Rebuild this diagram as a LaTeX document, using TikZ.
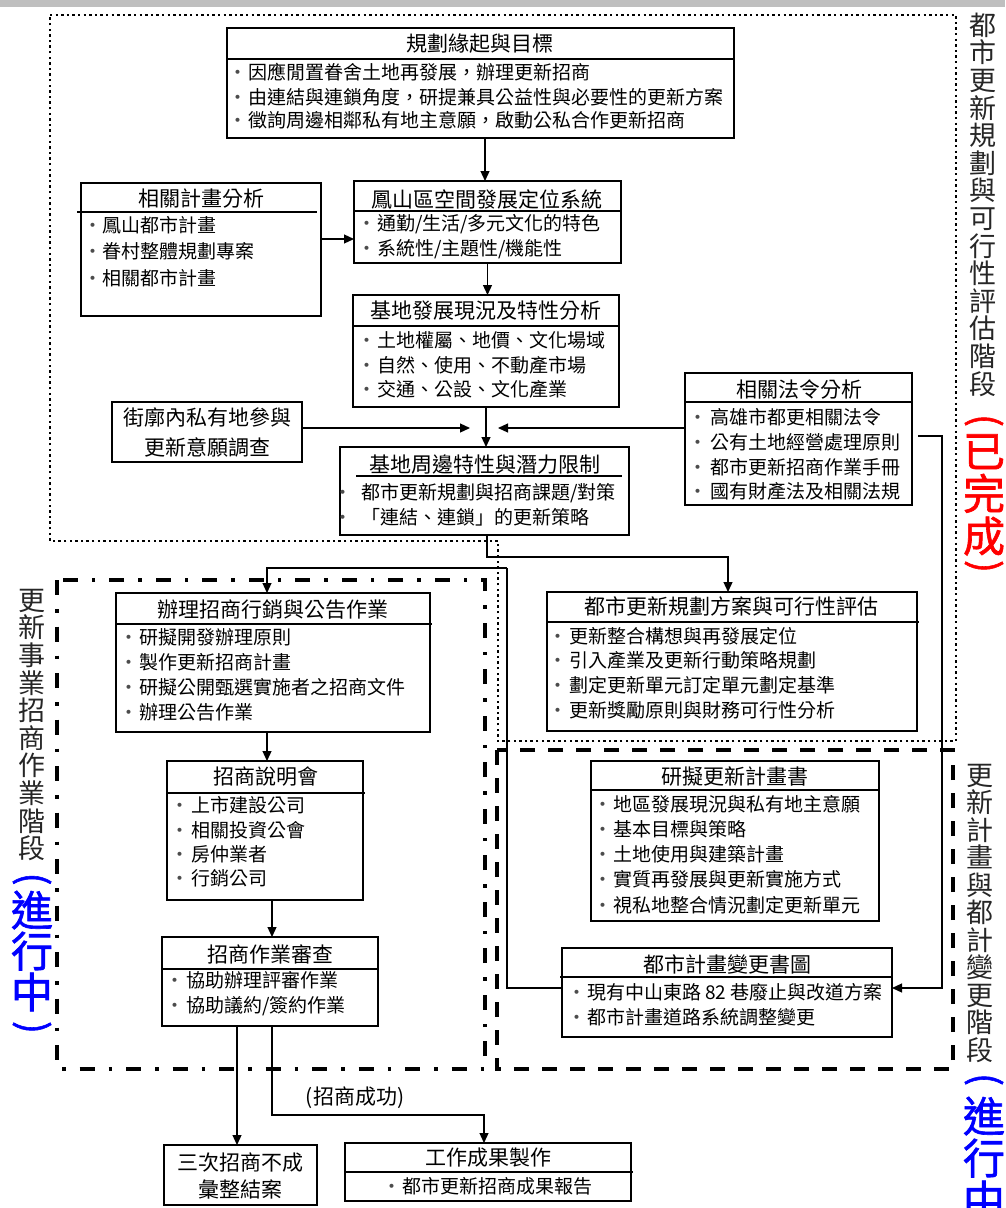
\documentclass[tikz,border=0pt]{standalone}
\usepackage{fontspec}
\setmainfont{Noto Sans CJK TC}
\newfontfamily\heavyf[FakeBold=1.5]{Noto Sans CJK TC}
\usetikzlibrary{arrows.meta}
\newcommand{\bul}[1]{\llap{\makebox[0pt][c]{\textcolor{black!70}{‧}}\hspace{#1pt}}}
\newcommand{\panel}[5]{\node[panel, minimum width={(#4-#2)*1pt}, minimum height={(#5-#3)*1pt}] (#1) at ({(#2+#4)/2},{(#3+#5)/2}) {};}
\tikzset{
  every node/.style={inner sep=0pt, outer sep=0pt},
  panel/.style={draw, line width=1.1pt},
  sepl/.style={line width=1.1pt},
  ttl/.style={font=\fontsize{21}{25}\selectfont, text height=16.8pt, text depth=0.84pt},
  itm/.style={font=\fontsize{19}{22}\selectfont, anchor=west, text height=15.2pt, text depth=0.76pt},
  conn/.style={line width=1.2pt},
  arr/.style={conn, -{Triangle[length=10pt,width=9pt]}},
  vch/.style={font=\fontsize{27}{27}\selectfont, text height=21.6pt, text depth=1.08pt, text=black!85},
  vbig/.style={font=\heavyf\fontsize{42}{42}\selectfont, text height=33.6pt, text depth=1.68pt},
  vpar/.style={font=\heavyf\fontsize{38}{38}\selectfont, rotate=-90},
}
\begin{document}
\begin{tikzpicture}[x=1pt,y=-1pt]
\useasboundingbox (0,0) rectangle (1005,1208);
\fill[gray!50] (0,0) rectangle (1005,7);

% stage outlines
\draw[line width=2.4pt, dash pattern=on 2.4pt off 3.2pt] (50,15) -- (956,15) -- (956,741) -- (498,741) -- (498,541) -- (50,541) -- cycle;
\draw[line width=3.5pt, dash pattern=on 15pt off 14pt on 3.5pt off 14pt] (57,580) rectangle (485,1069);
\draw[line width=3.5pt, dash pattern=on 15pt off 13pt] (497,750) rectangle (953,1069);

% vertical stage labels
\foreach \c [count=\i from 0] in {都,市,更,新,規,劃,與,可,行,性,評,估,階,段}
  \node[vch] (va\i) at (983,{25+\i*27.6}) {\c};
\node[vpar, text=red] (vr0) at (984,420.5) {(};
\foreach \c [count=\i from 1] in {已,完,成}
  \node[vbig, text=red] (vr\i) at (984,{408.5+\i*42.5}) {\c};
\node[vpar, text=red] (vr4) at (984,566.5) {)};
\foreach \c [count=\i from 0] in {更,新,事,業,招,商,作,業,階,段}
  \node[vch] (vb\i) at (32,{600+\i*27.6}) {\c};
\node[vpar, text=blue] (vl0) at (32,879) {(};
\foreach \c [count=\i from 1] in {進,行,中}
  \node[vbig, text=blue] (vl\i) at (32,{869+\i*41}) {\c};
\node[vpar, text=blue] (vl4) at (32,1027.5) {)};
\foreach \c [count=\i from 0] in {更,新,計,畫,與,都,計,變,更,階,段}
  \node[vch] (vc\i) at (980,{775+\i*27.5}) {\c};
\node[vpar, text=blue] (vd0) at (984,1079.5) {(};
\foreach \c [count=\i from 1] in {進,行,中}
  \node[vbig, text=blue] (vd\i) at (984,{1074+\i*42}) {\c};

% b1
\panel{b1}{227}{28}{734}{138}
\draw[sepl] (227,59) -- (734,59);
\node[ttl] (b1t) at (480,44) {規劃緣起與目標};
\node[itm] (b1a) at (248,72.5) {\bul{10}因應閒置眷舍土地再發展，辦理更新招商};
\node[itm] (b1b) at (248,97.5) {\bul{10}由連結與連鎖角度，研提兼具公益性與必要性的更新方案};
\node[itm] (b1c) at (248,120.5) {\bul{10}徵詢周邊相鄰私有地主意願，啟動公私合作更新招商};

% b2
\panel{b2}{81}{183}{321}{316}
\draw[sepl] (77,212) -- (317,212);
\node[ttl] (b2t) at (201,199) {相關計畫分析};
\node[itm] (b2a) at (102,225) {\bul{9}鳳山都市計畫};
\node[itm] (b2b) at (102,251) {\bul{9}眷村整體規劃專案};
\node[itm] (b2c) at (102,278) {\bul{9}相關都市計畫};

% b3
\panel{b3}{354}{181}{621}{263}
\draw[sepl] (354,211) -- (621,211);
\node[ttl] (b3t) at (487,199.5) {鳳山區空間發展定位系統};
\node[itm] (b3a) at (377,223) {\bul{10}通勤/生活/多元文化的特色};
\node[itm] (b3b) at (377,248) {\bul{10}系統性/主題性/機能性};

% b4
\panel{b4}{353}{295}{619}{407}
\draw[sepl] (353,326) -- (619,326);
\node[ttl] (b4t) at (486,311) {基地發展現況及特性分析};
\node[itm] (b4a) at (377,340) {\bul{10}土地權屬、地價、文化場域};
\node[itm] (b4b) at (377,365) {\bul{10}自然、使用、不動產市場};
\node[itm] (b4c) at (377,389) {\bul{10}交通、公設、文化產業};

% b5
\panel{b5}{112}{402}{302}{462}
\node[ttl] (b5a) at (207,418) {街廓內私有地參與};
\node[ttl] (b5b) at (207,448) {更新意願調查};

% b6
\panel{b6}{340}{447}{629}{535}
\draw[sepl] (356,476) -- (622,476);
\node[ttl] (b6t) at (484.5,465) {基地周邊特性與潛力限制};
\node[itm] (b6a) at (361,492) {\bul{18}都市更新規劃與招商課題/對策};
\node[itm] (b6b) at (361,517) {\bul{18}「連結、連鎖」的更新策略};

% b7
\panel{b7}{685}{373}{912}{505}
\draw[sepl] (685,402) -- (912,402);
\node[ttl] (b7t) at (799,390) {相關法令分析};
\node[itm] (b7a) at (710,417) {\bul{12}高雄市都更相關法令};
\node[itm] (b7b) at (710,442) {\bul{12}公有土地經營處理原則};
\node[itm] (b7c) at (710,467) {\bul{12}都市更新招商作業手冊};
\node[itm] (b7d) at (710,491) {\bul{12}國有財產法及相關法規};

% b8
\panel{b8}{116}{593}{430}{732}
\draw[sepl] (116,624) -- (432,624);
\node[ttl] (b8t) at (273,610) {辦理招商行銷與公告作業};
\node[itm] (b8a) at (139.3,637.5) {\bul{10}研擬開發辦理原則};
\node[itm] (b8b) at (139.3,662.5) {\bul{10}製作更新招商計畫};
\node[itm] (b8c) at (139.3,687.5) {\bul{10}研擬公開甄選實施者之招商文件};
\node[itm] (b8d) at (139.3,712.5) {\bul{10}辦理公告作業};

% b9
\panel{b9}{167}{761}{363}{900}
\draw[sepl] (167,793) -- (365,793);
\node[ttl] (b9t) at (265.5,777) {招商說明會};
\node[itm] (b9a) at (191,805) {\bul{11}上市建設公司};
\node[itm] (b9b) at (191,830) {\bul{11}相關投資公會};
\node[itm] (b9c) at (191,854) {\bul{11}房仲業者};
\node[itm] (b9d) at (191,878) {\bul{11}行銷公司};

% b10
\panel{b10}{162}{937}{378}{1026}
\draw[sepl] (162,969) -- (379,969);
\node[ttl] (b10t) at (270,955) {招商作業審查};
\node[itm] (b10a) at (186,980) {\bul{11}協助辦理評審作業};
\node[itm] (b10b) at (186,1005) {\bul{11}協助議約/簽約作業};

% b11
\panel{b11}{164}{1145}{317}{1205}
\node[ttl] (b11a) at (240.5,1163) {三次招商不成};
\node[ttl] (b11b) at (240.5,1190) {彙整結案};

% b12
\panel{b12}{345}{1143}{631}{1201}
\draw[sepl] (345,1172) -- (633,1172);
\node[ttl] (b12t) at (488,1158) {工作成果製作};
\node[itm] (b12a) at (402,1186) {\bul{10}都市更新招商成果報告};

% b13
\panel{b13}{547}{592}{917}{731}
\draw[sepl] (547,622) -- (919,622);
\node[ttl] (b13t) at (731,607) {都市更新規劃方案與可行性評估};
\node[itm] (b13a) at (569,636) {\bul{11}更新整合構想與再發展定位};
\node[itm] (b13b) at (569,660) {\bul{11}引入產業及更新行動策略規劃};
\node[itm] (b13c) at (569,685) {\bul{11}劃定更新單元訂定單元劃定基準};
\node[itm] (b13d) at (569,710) {\bul{11}更新獎勵原則與財務可行性分析};

% b14
\panel{b14}{591}{761}{879}{921}
\draw[sepl] (591,790) -- (879,790);
\node[ttl] (b14t) at (735,777) {研擬更新計畫書};
\node[itm] (b14a) at (613,804) {\bul{10}地區發展現況與私有地主意願};
\node[itm] (b14b) at (613,829) {\bul{10}基本目標與策略};
\node[itm] (b14c) at (613,854) {\bul{10}土地使用與建築計畫};
\node[itm] (b14d) at (613,879) {\bul{10}實質再發展與更新實施方式};
\node[itm] (b14e) at (613,905) {\bul{10}視私地整合情況劃定更新單元};

% b15
\panel{b15}{562}{948}{892}{1037}
\draw[sepl] (560,977) -- (892,977);
\node[ttl] (b15t) at (727,965) {都市計畫變更書圖};
\node[itm] (b15a) at (587,992) {\bul{10}現有中山東路 82 巷廢止與改道方案};
\node[itm] (b15b) at (587,1017) {\bul{10}都市計畫道路系統調整變更};

% connectors
\draw[arr] ([xshift=-2.5pt]b3.north |- b1.south) -- ([xshift=-2.5pt]b3.north);
\draw[arr] (b2.east |- 0,239) -- (b3.west |- 0,239);
\draw[arr] (b3.south) -- (b3.south |- b4.north);
\draw[arr] (b4.south) -- (b4.south |- b6.north);
\coordinate (m1) at (470,428);
\draw[arr] (b5.east |- m1) -- (m1);
\coordinate (m2) at (498,428);
\draw[arr] (b7.west |- m2) -- (m2);
\coordinate (r0) at (918,436);
\coordinate (r1) at (942,436);
\draw[arr] (r0) -- (r1) |- (b15.east |- 0,988);
\draw[arr] ([xshift=2.5pt]b6.south) -- ++(0,22) -| ([xshift=-4pt]b13.north);
\coordinate (j) at (507,568);
\draw[arr] (j) -| ([xshift=-6pt]b8.north);
\draw[conn] (j) |- (b15.west |- 0,988);
\draw[arr] ([xshift=2pt]b9.north |- b8.south) -- ([xshift=2pt]b9.north);
\draw[arr] ([xshift=2pt]b10.north |- b9.south) -- ([xshift=2pt]b10.north);
\draw[arr] ([xshift=-3.5pt]b11.north |- b10.south) -- ([xshift=-3.5pt]b11.north);
\draw[arr] ([xshift=2pt]b10.south) -- ([xshift=2pt]b10.south |- 0,1115) -| ([xshift=-4pt]b12.north);
\node[ttl] (lbl) at (355,1097) {(招商成功)};
\end{tikzpicture}
\end{document}
